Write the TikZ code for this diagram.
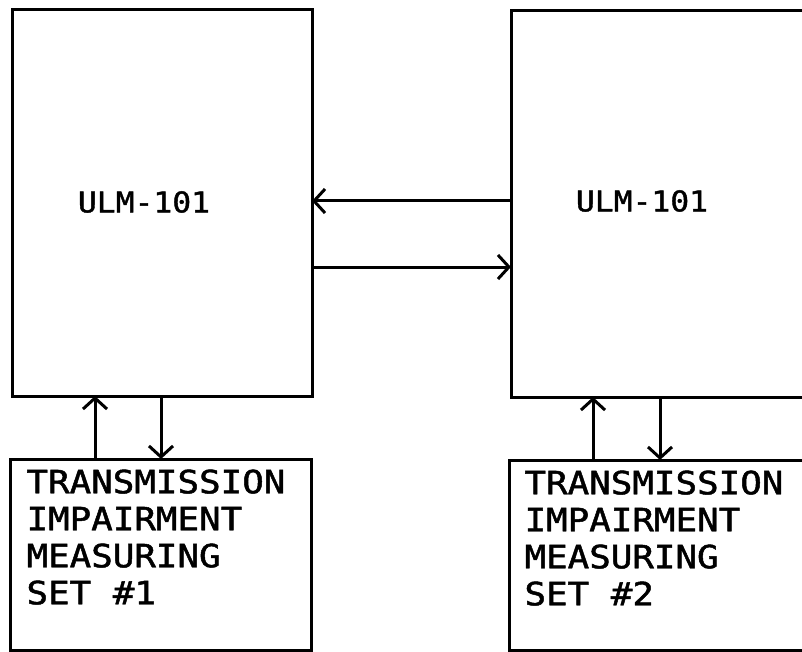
\documentclass[tikz,border=0pt]{standalone}
\usepackage{fontspec}
\newfontfamily\dmtext[FakeStretch=1.12,FakeBold=1.5]{DejaVu Sans Mono}
\newfontfamily\dmulm[FakeStretch=1.1,FakeBold=1.5]{DejaVu Sans Mono}
\usetikzlibrary{arrows.meta}
\begin{document}
\begin{tikzpicture}[x=1pt,y=-1pt,line width=3pt,
  box/.style={draw,rectangle,inner sep=0pt,outer sep=0pt,anchor=north west},
  ulmtext/.style={font=\dmulm\fontsize{28.5}{32}\selectfont,inner sep=0pt},
  settext/.style={font=\dmtext\fontsize{32}{37}\selectfont,align=left,inner sep=0pt,anchor=north west},
  conn/.style={-{Straight Barb[length=11pt,width=24pt,line width=3pt]}}]
\useasboundingbox (0,0) rectangle (802,652);
\fill[white] (0,0) rectangle (802,652);
\begin{scope}
\clip (0,0) rectangle (802,652);
% boxes
\node[box,minimum width=300pt,minimum height=386pt] (ulmA) at (12,10) {};
\node[box,minimum width=330pt,minimum height=386pt] (ulmB) at (511,11) {};
\node[box,minimum width=301pt,minimum height=191pt] (timsA) at (10,459) {};
\node[box,minimum width=330pt,minimum height=190pt] (timsB) at (509,460) {};
% labels
\node[ulmtext] (lA) at (144,202) {ULM-101};
\node[ulmtext] (lB) at (642,201) {ULM-101};
\node[settext] (sA) at (25,468) {TRANSMISSION\\IMPAIRMENT\\MEASURING\\SET \#1};
\node[settext] (sB) at (523,469) {TRANSMISSION\\IMPAIRMENT\\MEASURING\\SET \#2};
% helper coordinates
\coordinate (h1) at (0,201);
\coordinate (h2) at (0,267);
\coordinate (vA1) at (95,0);
\coordinate (vA2) at (161,0);
\coordinate (vB1) at (593,0);
\coordinate (vB2) at (660,0);
% connectors
\draw[conn] (ulmB.west |- h1) -- (ulmA.east |- h1);
\draw[conn] (ulmA.east |- h2) -- (ulmB.west |- h2);
\draw[conn] (timsA.north -| vA1) -- (ulmA.south -| vA1);
\draw[conn] (ulmA.south -| vA2) -- (timsA.north -| vA2);
\draw[conn] (timsB.north -| vB1) -- (ulmB.south -| vB1);
\draw[conn] (ulmB.south -| vB2) -- (timsB.north -| vB2);
\end{scope}
\end{tikzpicture}
\end{document}
